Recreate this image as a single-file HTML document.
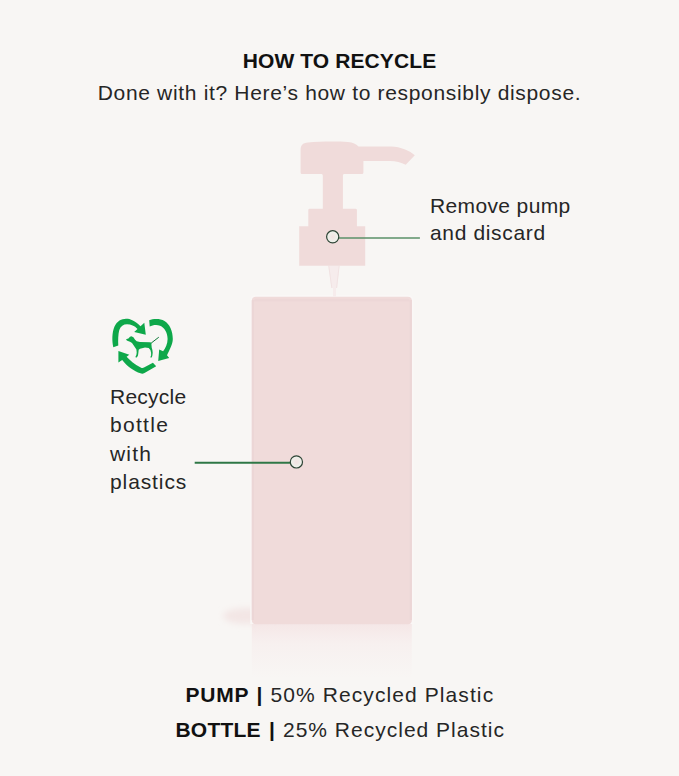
<!DOCTYPE html>
<html><head><meta charset="utf-8">
<style>
html,body{margin:0;padding:0;}
body{width:679px;height:776px;background:#f8f6f4;position:relative;overflow:hidden;font-family:"Liberation Sans",sans-serif;color:#262626;}
.t{position:absolute;white-space:nowrap;line-height:1;font-size:21px;}
.b{font-weight:bold;color:#111;}
#title{left:0;width:679px;text-align:center;top:50.1px;font-size:21px;font-weight:bold;letter-spacing:0.1px;color:#111;}
#sub{left:0;width:679px;text-align:center;top:82.3px;font-size:21px;letter-spacing:0.67px;}
svg{position:absolute;left:0;top:0;}
</style></head>
<body>
<svg width="679" height="776" viewBox="0 0 679 776">
  <defs>
    <linearGradient id="refl" x1="0" y1="0" x2="0" y2="1">
      <stop offset="0" stop-color="#f5e7e7"/>
      <stop offset="0.35" stop-color="#f7f0ef"/>
      <stop offset="1" stop-color="#f8f6f4"/>
    </linearGradient>
    <radialGradient id="cg"><stop offset="0" stop-color="#f2e2e1"/><stop offset="0.5" stop-color="#f0ebe7"/><stop offset="1" stop-color="#ecf4ec"/></radialGradient>
    <filter id="blur3" x="-50%" y="-100%" width="200%" height="300%"><feGaussianBlur stdDeviation="3"/></filter>
  </defs>
  <!-- reflection -->
  <rect x="251.8" y="624" width="160" height="54" fill="url(#refl)"/>
  <!-- left shadow -->
  <ellipse cx="247" cy="616" rx="24" ry="8" fill="#f3e6e5" filter="url(#blur3)"/>
  <!-- bottle halo -->
  <path d="M250.2 624 L250.2 300.5 Q250.2 295.3 255.5 295.3 L408.2 295.3 Q413.5 295.3 413.5 300.5 L413.5 624 Z" fill="#faf7f6"/>
  <!-- bottle -->
  <path d="M251.8 301 Q251.8 296.8 256 296.8 L407.7 296.8 Q411.9 296.8 411.9 301 L411.9 620 Q411.9 624.2 407.7 624.2 L256 624.2 Q251.8 624.2 251.8 620 Z" fill="#f0dbda"/>
  <path d="M254 300.5 Q254 298.8 256 298.8 L407.7 298.8 Q409.7 298.8 409.7 300.5 L409.7 301.5 L254 301.5 Z" fill="#edd7d7"/>
  <rect x="251.8" y="300" width="2.2" height="320" fill="#ecd6d6"/>
  <rect x="409.7" y="300" width="2.2" height="320" fill="#ecd6d6"/>
  <!-- tube -->
  <path d="M328.3 265.5 L339.6 265.5 L337 288 L336 288 L336 296.5 L333 296.5 L333 288 L331.4 288 Z" fill="#f6ecec"/>
  <path d="M328.8 266 L331.8 288 M339.1 266 L336.6 288" stroke="#f0e0df" stroke-width="0.8" fill="none"/>
  <!-- pump -->
  <path d="M300.6 172 L300.6 150.5 C300.6 145.5 302.5 143 308 142.6 C318 141.6 335 141.2 348 142 C353 142.4 356 144 358.5 146.6 L391 146.6 C401 147 409 150.5 414.8 155.2 L405.7 164.8 C401 162.5 396 161.2 390 161 L363.4 161 L363.4 172.5 Q363.4 174 362 174 L344 174 Q342.9 174.3 342.9 175.5 L342.9 208.7 L355.5 208.7 Q356.9 208.7 356.9 210.1 L356.9 226.3 L365.2 226.3 L365.2 265.7 L299.2 265.7 L299.2 226.3 L308.3 226.3 L308.3 210.1 Q308.3 208.7 309.7 208.7 L322.8 208.7 L322.8 175.5 Q322.8 174.3 321.6 174 L302 174 Q300.6 174 300.6 172.5 Z" fill="#f0dbda"/>
  <!-- pump callout -->
  <line x1="339" y1="238" x2="419.9" y2="238" stroke="#5b9068" stroke-width="1.7"/>
  <circle cx="332.7" cy="236.8" r="6.1" fill="url(#cg)" stroke="#2d4435" stroke-width="1.2"/>
  <!-- bottle callout -->
  <line x1="194.7" y1="462.7" x2="290" y2="462.7" stroke="#2f7746" stroke-width="1.9"/>
  <circle cx="296.4" cy="461.9" r="6.1" fill="url(#cg)" stroke="#2d4435" stroke-width="1.2"/>
  <!-- recycle heart icon -->
  <g fill="#0ea84a" stroke="none">
    <path d="M113.3 347.3 C112 341 111.8 333 114.5 326.5 C117 321 121.5 318.8 126 318.7 C130.5 318.7 135 320.5 140.5 326.3 L144.3 322.8 L145.8 334.8 L134.2 332 L137.5 329 C134.5 325.8 131 324.3 127 324.3 C123.5 324.3 120.5 326.3 119.3 330 C118.2 334 118 340 118.3 345.6 Z"/>
    <path d="M149.2 320.2 C153 318.6 160 318.2 164.5 320.9 C169.5 324 172.8 330.5 172.8 339 C172.8 344 169.5 350 167 355.2 L169.2 358 L158.2 361.1 L159.2 349.4 L163.1 351.3 C165.5 348 167.6 344 167.6 339 C167.6 333 164.5 327.5 160 325.8 C156.5 324.5 152.5 325.2 149.7 326.6 Z"/>
    <path d="M152.9 362.7 L156.2 366.3 L144.5 373 Q142.5 374.1 140.5 373.3 C134 370.8 127 366.5 122.2 359.9 L118.4 362.6 L118.4 351.1 L129.3 354.8 L126.6 356.8 C129.5 360 134.5 364.5 140.7 367.4 Q142.3 368.3 144 367.6 Z"/>
    <path d="M126 339.7 L126.7 339 L128.4 338.4 L130 336.7 L131.4 336.3 L133.4 337.3 L135.1 339.7 L136.7 341.2 L140 341.9 L150 342.2 L151.7 342.7 L151.4 344 L151.7 347.4 L152.4 350.1 L152.7 352.8 L152.4 355.4 L151.7 357.4 L150.4 357.4 L150.6 356.4 L151.1 355.4 L151.1 352.8 L150.4 350.1 L148.7 348.1 L145 347.4 L140 348.7 L138.7 349.7 L138.4 352.4 L138 355.4 L136.8 357.6 L135.4 357.3 L135.6 356.6 L136.4 354.8 L136.7 352.4 L136.4 349.4 L135.1 347.4 L133.4 345 L132 343 L130 341.7 L127.3 340.7 Z"/>
    <path d="M151.3 343 L158.8 337.2" fill="none" stroke="#0e7a38" stroke-width="1"/>
  </g>
</svg>
<div class="t" id="title">HOW TO RECYCLE</div>
<div class="t" id="sub">Done with it? Here’s how to responsibly dispose.</div>
<div class="t" style="left:430px;top:194.8px;letter-spacing:0.37px">Remove pump</div>
<div class="t" style="left:430px;top:222.4px;letter-spacing:0.65px">and discard</div>
<div class="t" style="left:110px;top:385.7px;letter-spacing:0.25px">Recycle</div>
<div class="t" style="left:110px;top:414px;letter-spacing:1.3px">bottle</div>
<div class="t" style="left:110px;top:442.9px;letter-spacing:1.2px">with</div>
<div class="t" style="left:110px;top:471.2px;letter-spacing:0.9px">plastics</div>
<div class="t b" style="left:185.5px;top:684.2px;letter-spacing:0.8px">PUMP</div>
<div class="t b" style="left:256.5px;top:684.2px;">|</div>
<div class="t" style="left:270.5px;top:684.2px;letter-spacing:1.09px">50% Recycled Plastic</div>
<div class="t b" style="left:175.5px;top:719.1px;letter-spacing:0.2px">BOTTLE</div>
<div class="t b" style="left:269px;top:719.1px;">|</div>
<div class="t" style="left:283px;top:719.1px;letter-spacing:1.0px">25% Recycled Plastic</div>
</body></html>
